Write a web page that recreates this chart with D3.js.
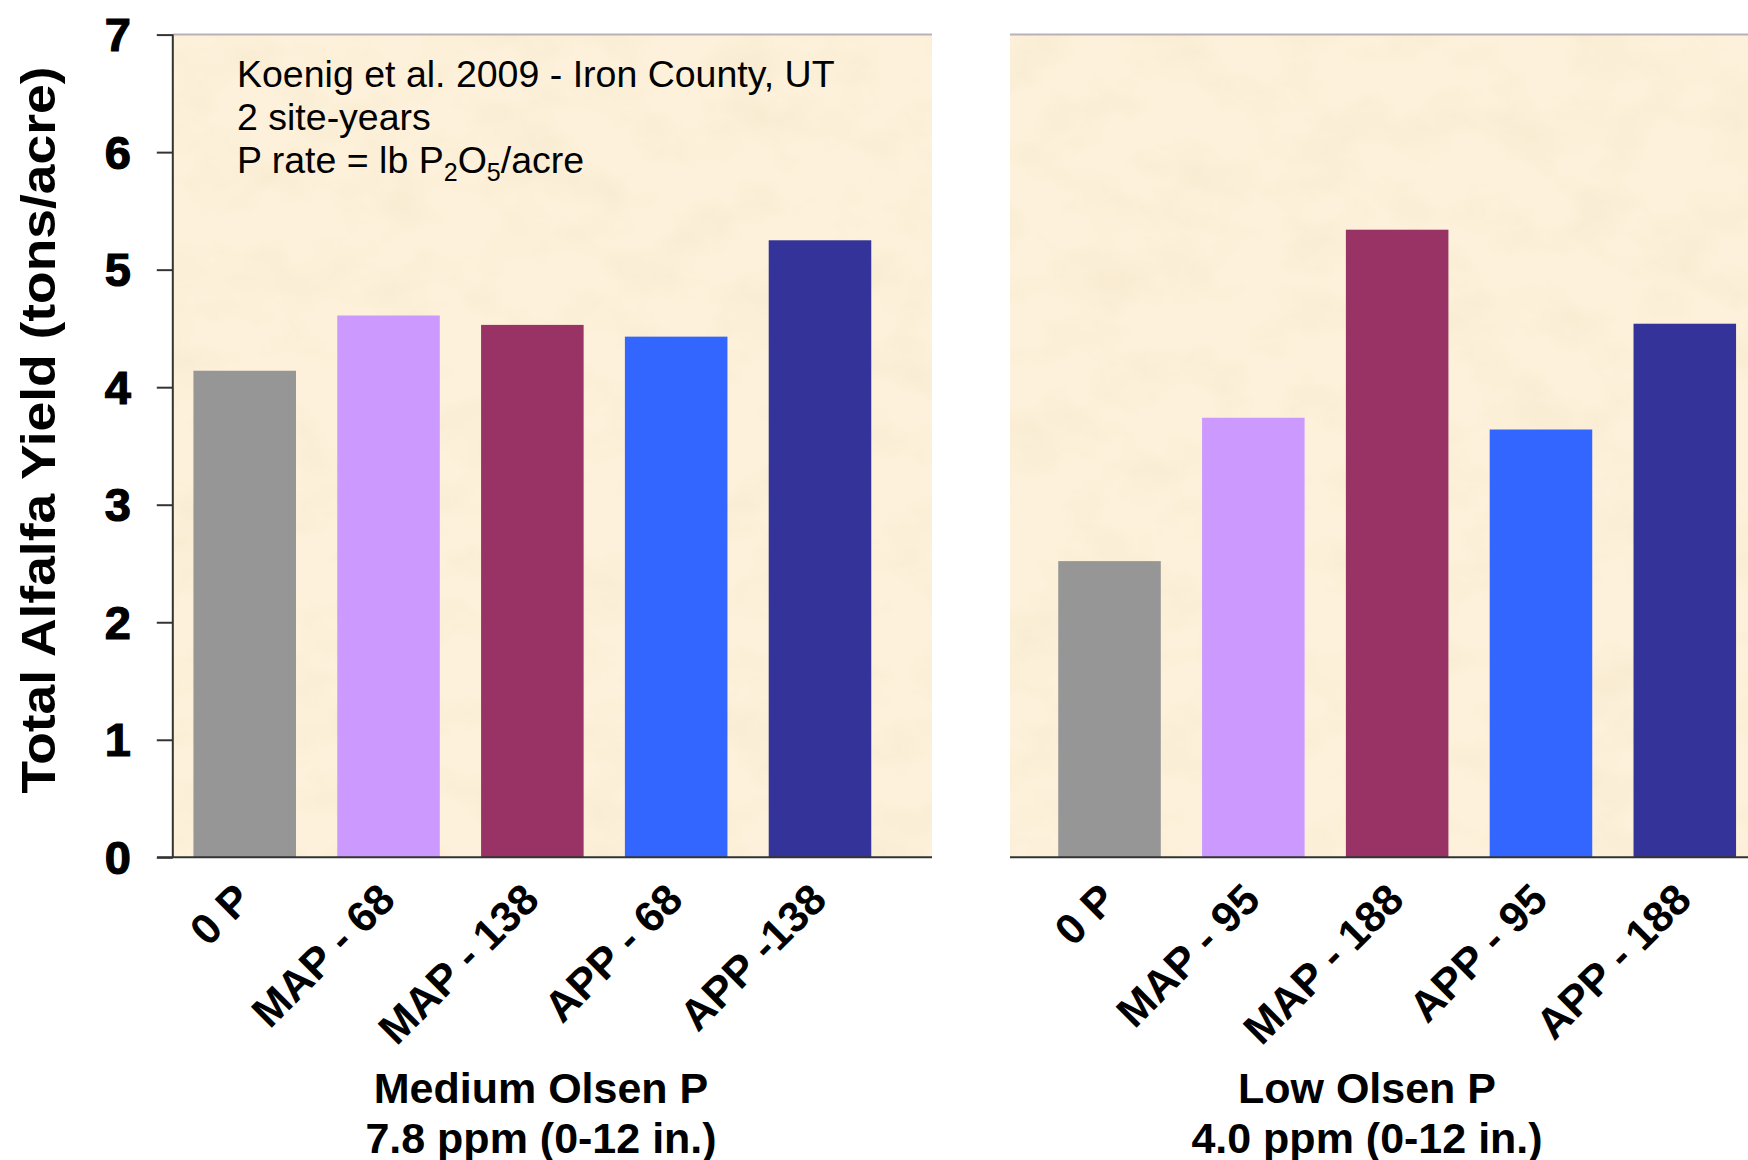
<!DOCTYPE html>
<html>
<head>
<meta charset="utf-8">
<script src="https://cdn.jsdelivr.net/npm/d3@7"></script>
<style>
  html, body { margin: 0; padding: 0; background: #ffffff; }
  svg { display: block; }
  text { font-family: "Liberation Sans", Arial, sans-serif; fill: #000; }
</style>
</head>
<body>
<svg id="chart" width="1748" height="1160"></svg>
<script>
// ---------- data ----------
const categoriesLeft  = ["0 P", "MAP - 68", "MAP - 138", "APP - 68", "APP -138"];
const valuesLeft      = [4.14, 4.61, 4.53, 4.43, 5.25];
const categoriesRight = ["0 P", "MAP - 95", "MAP - 188", "APP - 95", "APP - 188"];
const valuesRight     = [2.52, 3.74, 5.34, 3.64, 4.54];
const yTickValues     = [0, 1, 2, 3, 4, 5, 6, 7];
const panelTitlesLeft  = ["Medium Olsen P", "7.8 ppm (0-12 in.)"];
const panelTitlesRight = ["Low Olsen P", "4.0 ppm (0-12 in.)"];
const yAxisTitle = "Total Alfalfa Yield (tons/acre)";
const noteLines = ["Koenig et al. 2009 - Iron County, UT", "2 site-years"];

// ---------- styles ----------
const barColors = ["#969696", "#CC99FF", "#993366", "#3366FF", "#333399"];

const svg = d3.select("#chart");

const y = d3.scaleLinear().domain([0, 7]).range([857.3, 34.6]);

// parchment texture
const defs = svg.append("defs");
const filt = defs.append("filter").attr("id", "parch")
  .attr("x", 0).attr("y", 0).attr("width", 1).attr("height", 1);
filt.append("feTurbulence").attr("type", "fractalNoise")
  .attr("baseFrequency", "0.014 0.02").attr("numOctaves", 4).attr("seed", 7).attr("result", "n");
filt.append("feColorMatrix").attr("in", "n").attr("type", "matrix")
  .attr("values", "0 0 0 0 0.92  0 0 0 0 0.82  0 0 0 0 0.62  1.6 0 0 0 -0.68");

const panels = [
  { x0: 172.8, x1: 932,  band: [172.8, 891.9], cats: categoriesLeft,  vals: valuesLeft,  yAxis: true,  titles: panelTitlesLeft,  titleX: 541 },
  { x0: 1010,  x1: 1748, band: [1037.6, 1756.7], cats: categoriesRight, vals: valuesRight, yAxis: false, titles: panelTitlesRight, titleX: 1367 }
];

panels.forEach(p => {
  const g = svg.append("g");
  g.append("rect").attr("x", p.x0).attr("y", y(7)).attr("width", p.x1 - p.x0).attr("height", y(0) - y(7))
    .attr("fill", "#FEF1DB");
  g.append("rect").attr("x", p.x0).attr("y", y(7)).attr("width", p.x1 - p.x0).attr("height", y(0) - y(7))
    .attr("fill", "#fff").attr("filter", "url(#parch)");
  g.append("line").attr("x1", p.x0).attr("x2", p.x1).attr("y1", y(7)).attr("y2", y(7))
    .attr("stroke", "#b9b1b6").attr("stroke-width", 2);

  const x = d3.scaleBand().domain(p.cats).range(p.band).paddingInner(0.287).paddingOuter(0.1435);

  g.selectAll("rect.bar").data(p.cats).enter().append("rect").attr("class", "bar")
    .attr("x", d => x(d)).attr("width", x.bandwidth())
    .attr("y", (d, i) => y(p.vals[i])).attr("height", (d, i) => y(0) - y(p.vals[i]))
    .attr("fill", (d, i) => barColors[i]);

  g.append("line").attr("x1", p.yAxis ? 157 : p.x0).attr("x2", p.x1).attr("y1", y(0)).attr("y2", y(0))
    .attr("stroke", "#333").attr("stroke-width", 2);

  g.selectAll("text.xl").data(p.cats).enter().append("text").attr("class", "xl")
    .attr("transform", d => `translate(${x(d) + x.bandwidth() / 2 + 9},${902}) rotate(-45)`)
    .attr("text-anchor", "end").attr("font-weight", "bold").attr("font-size", 43)
    .text(d => d);

  p.titles.forEach((t, i) => {
    svg.append("text").attr("x", p.titleX).attr("y", 1103 + i * 50)
      .attr("text-anchor", "middle").attr("font-weight", "bold").attr("font-size", 43)
      .text(t);
  });

  if (p.yAxis) {
    const ax = d3.axisLeft(y).tickValues(yTickValues).tickSize(16).tickPadding(26).tickFormat(d3.format("d"));
    const ag = svg.append("g").attr("transform", `translate(${p.x0},0)`).call(ax);
    ag.select(".domain").attr("stroke", "#333").attr("stroke-width", 2).attr("d", `M0,${y(7)}V${y(0)}`);
    ag.selectAll(".tick line").attr("stroke", "#333").attr("stroke-width", 2);
    ag.selectAll(".tick text").attr("font-size", 47).attr("font-weight", "bold")
      .attr("font-family", "'Liberation Sans', Arial, sans-serif").attr("fill", "#000")
      .attr("stroke", "#000").attr("stroke-width", 1.2).attr("dy", "0.34em");
  }
});

// y axis title
svg.append("text").attr("transform", "translate(55,430) rotate(-90)")
  .attr("text-anchor", "middle").attr("font-weight", "bold").attr("font-size", 49)
  .attr("textLength", 727).attr("lengthAdjust", "spacingAndGlyphs")
  .text(yAxisTitle);

// note
const note = svg.append("g");
noteLines.forEach((t, i) => {
  note.append("text").attr("x", 237).attr("y", 87 + i * 43).attr("font-size", 37.5).text(t);
});
const l3 = note.append("text").attr("x", 237).attr("y", 173).attr("font-size", 37.5);
l3.append("tspan").text("P rate = lb P");
l3.append("tspan").attr("font-size", 25).attr("dy", 8).text("2");
l3.append("tspan").attr("dy", -8).text("O");
l3.append("tspan").attr("font-size", 25).attr("dy", 8).text("5");
l3.append("tspan").attr("dy", -8).text("/acre");
</script>
</body>
</html>
